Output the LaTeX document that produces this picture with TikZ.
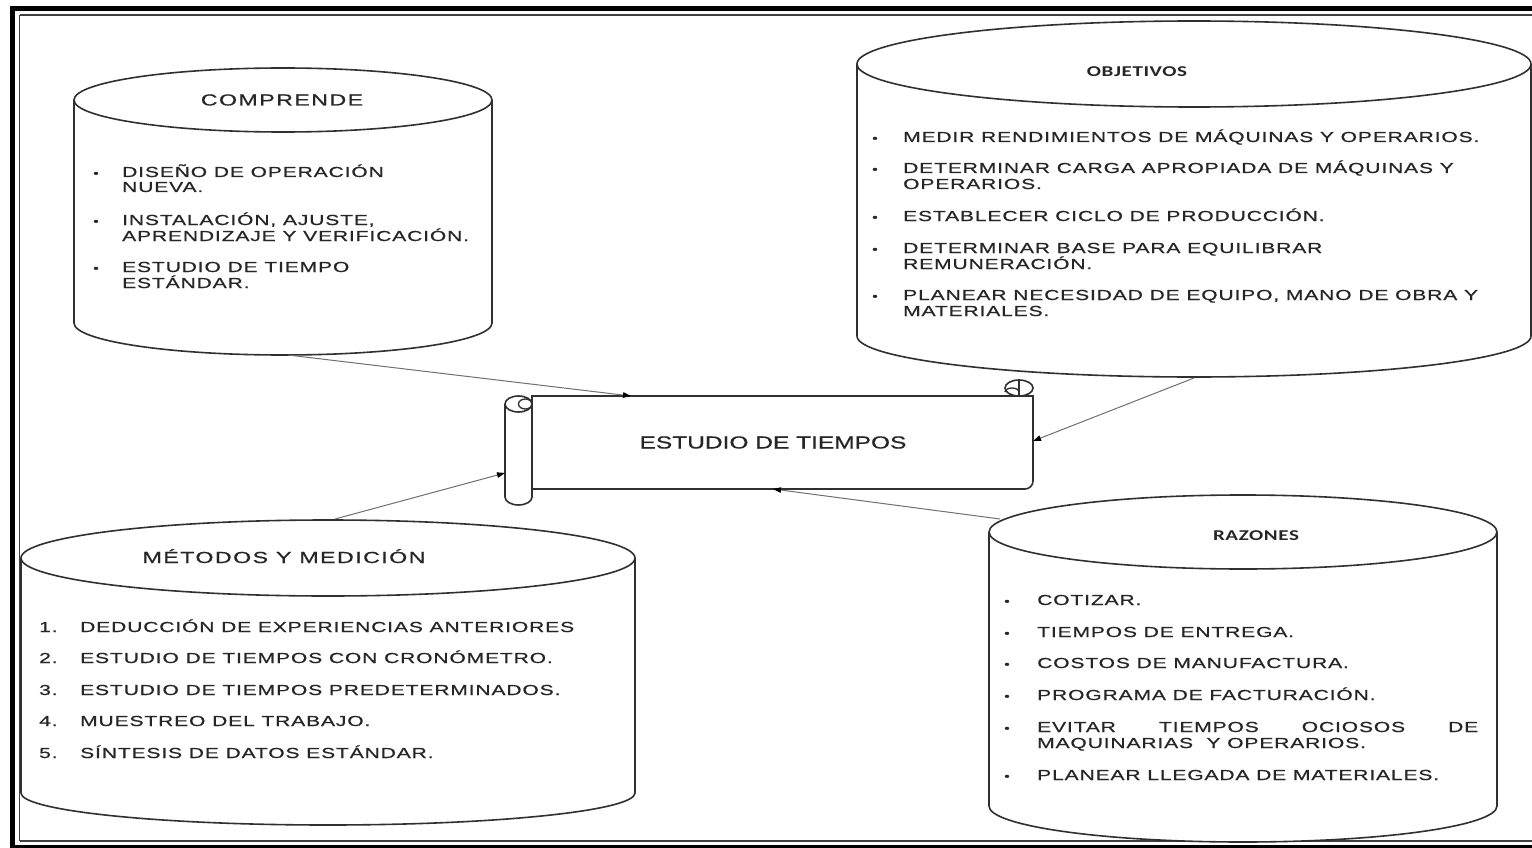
\documentclass[tikz,border=0pt]{standalone}
\usepackage{fontspec}
\setmainfont{Liberation Sans}
\newfontfamily\bodyfont[FakeStretch=1.45,LetterSpace=6,FakeBold=0.6]{Liberation Sans}
\newfontfamily\headfont[FakeStretch=1.45,LetterSpace=9,FakeBold=0.6]{Liberation Sans}
\newfontfamily\titlefont[FakeStretch=1.4,FakeBold=0.6]{Liberation Sans}
\newfontfamily\capfont[FakeStretch=1.4,LetterSpace=4]{Carlito}
\usetikzlibrary{arrows.meta}

\definecolor{ink}{HTML}{262626}
\definecolor{edge}{HTML}{303030}
\definecolor{wire}{HTML}{707070}

\tikzset{
  outline/.style={draw=edge, line width=1.6pt},
  wire/.style={draw=wire, line width=1pt, -{Triangle[length=8pt,width=5.5pt,black]}},
  body/.style={anchor=base west, inner sep=0pt, text=ink, font=\bodyfont\fontsize{14.5}{16}\selectfont},
  dot/.style={anchor=base west, inner sep=0pt, text=ink, font=\bodyfont\fontsize{11}{16}\selectfont},
  head/.style={anchor=base, inner sep=0pt, text=ink, font=\headfont\fontsize{16}{18}\selectfont},
  headc/.style={anchor=base, inner sep=0pt, text=ink, font=\capfont\bfseries\fontsize{15}{16}\selectfont},
  title/.style={anchor=base, inner sep=0pt, text=ink, font=\titlefont\fontsize{17.5}{20}\selectfont},
}

% drum: centre x, top centre y, x radius, top y radius, bottom centre y, bottom y radius
\newcommand\drum[6]{%
  \draw[outline, fill=white] (#1-#3,#2) -- (#1-#3,#5)
    arc[start angle=180, end angle=360, x radius=#3pt, y radius=#6pt] -- (#1+#3,#2);
  \draw[outline, fill=white] (#1,#2) ellipse[x radius=#3pt, y radius=#4pt];
}

\begin{document}
\begin{tikzpicture}[x=1pt, y=-1pt]
  \useasboundingbox (0,0) rectangle (1532,848);
  \clip (0,0) rectangle (1532,848);
  \fill[white] (0,0) rectangle (1532,848);

  % page frame
  \draw[black, line width=5.5pt] (12.7,8.5) -- (1560,8.5);
  \draw[black, line width=5.5pt] (12.7,5.75) -- (12.7,860);
  \draw[black, line width=4pt] (10,847) -- (1560,847);
  \draw[black!75, line width=1.5pt] (19.5,15) -- (1560,15);
  \draw[black!75, line width=1.5pt] (19.5,15) -- (19.5,841);
  \draw[black!75, line width=1.5pt] (19.5,841) -- (1560,841);

  % the four drums
  \drum{283}{100}{209}{32}{323}{32}
  \drum{1194}{64}{337}{43}{336}{41}
  \drum{328}{558}{307}{38}{793}{32}
  \drum{1243}{532}{254}{37}{806}{36}

  % central scroll
  \draw[outline, fill=white] (532,396) -- (1033,396) -- (1033,481)
    arc[start angle=0, end angle=-90, radius=8pt] -- (532,489) -- cycle;
  \draw[outline, fill=white] (505,404) -- (505,497)
    arc[start angle=180, end angle=360, x radius=13.5pt, y radius=8pt] -- (532,404);
  \draw[outline, fill=white] (518.5,404) ellipse[x radius=13.5pt, y radius=8pt];
  \draw[outline, line width=1.3pt] (518.5,404) arc[start angle=180, end angle=360, x radius=6.75pt, y radius=5pt]
    -- (532,404);
  \draw[outline, line width=1.3pt] (518.5,404) arc[start angle=180, end angle=0, x radius=6.75pt, y radius=5pt];
  \draw[outline, fill=white] (1019,388) ellipse[x radius=14pt, y radius=8pt];
  \draw[outline, line width=1.3pt] (1019,380) -- (1019,396);
  \draw[outline, line width=1.3pt] (1005,392) arc[start angle=180, end angle=0, x radius=7pt, y radius=4pt];
  \draw[outline] (1005,396) -- (1033,396);
  \node[title] (scroll) at (773,448.5) {ESTUDIO DE TIEMPOS};

  % headings
  \node[head] (comprende) at (282,105.5) {COMPRENDE};
  \node[headc] (objetivos) at (1137,77) {OBJETIVOS};
  \node[head] (metodos) at (284,563) {MÉTODOS Y MEDICIÓN};
  \node[headc] (razones) at (1256,540) {RAZONES};

  % COMPRENDE items
  \foreach \y/\t [count=\i] in {172/DISEÑO DE OPERACIÓN, 187/NUEVA., 220/{INSTALACIÓN, AJUSTE,},
      236/APRENDIZAJE Y VERIFICACIÓN., 267/ESTUDIO DE TIEMPO, 283/ESTÁNDAR.}
    \node[body] (ca\i) at (122,\y+5) {\t};
  \foreach \y [count=\i] in {172,220,267}
    \node[dot] (cb\i) at (93,\y+5) {•};

  % OBJETIVOS items
  \foreach \y/\t [count=\i] in {137/MEDIR RENDIMIENTOS DE MÁQUINAS Y OPERARIOS.,
      168/DETERMINAR CARGA APROPIADA DE MÁQUINAS Y, 184/OPERARIOS.,
      216/ESTABLECER CICLO DE PRODUCCIÓN., 248/DETERMINAR BASE PARA EQUILIBRAR,
      264/REMUNERACIÓN., 295/{PLANEAR NECESIDAD DE EQUIPO, MANO DE OBRA Y}, 311/MATERIALES.}
    \node[body] (oa\i) at (903,\y+5) {\t};
  \foreach \y [count=\i] in {137,168,216,248,295}
    \node[dot] (ob\i) at (872,\y+5) {•};

  % METODOS items
  \foreach \y/\n/\t in {627/1/DEDUCCIÓN DE EXPERIENCIAS ANTERIORES,
      658/2/ESTUDIO DE TIEMPOS CON CRONÓMETRO., 690/3/ESTUDIO DE TIEMPOS PREDETERMINADOS.,
      721/4/MUESTREO DEL TRABAJO., 753/5/SÍNTESIS DE DATOS ESTÁNDAR.}
  {
    \node[body] (mn\n) at (39,\y+5) {\n.};
    \node[body] (ma\n) at (80,\y+5) {\t};
  }

  % RAZONES items
  \foreach \y/\t [count=\i] in {600/COTIZAR., 632/TIEMPOS DE ENTREGA., 663/COSTOS DE MANUFACTURA.,
      695/PROGRAMA DE FACTURACIÓN., 743/MAQUINARIAS\ \ Y OPERARIOS., 775/PLANEAR LLEGADA DE MATERIALES.}
    \node[body] (ra\i) at (1037,\y+5) {\t};
  \node[body] (rjust) at (1037,732) {\makebox[441pt][s]{EVITAR TIEMPOS OCIOSOS DE}};
  \foreach \y [count=\i] in {600,632,663,695,727,775}
    \node[dot] (rb\i) at (1004,\y+5) {•};

  % connector ends
  \coordinate (compOut) at (288,355);
  \coordinate (scrollTop) at (631,396);
  \coordinate (objOut) at (1194,378);
  \coordinate (scrollRight) at (1033,441);
  \coordinate (metOut) at (335,519);
  \coordinate (scrollLeft) at (505,473);
  \coordinate (razOut) at (1000,519);
  \coordinate (scrollBottom) at (773,489);

  \draw[wire] (compOut) -- (scrollTop);
  \draw[wire] (objOut) -- (scrollRight);
  \draw[wire] (metOut) -- (scrollLeft);
  \draw[wire] (razOut) -- (scrollBottom);
\end{tikzpicture}
\end{document}
